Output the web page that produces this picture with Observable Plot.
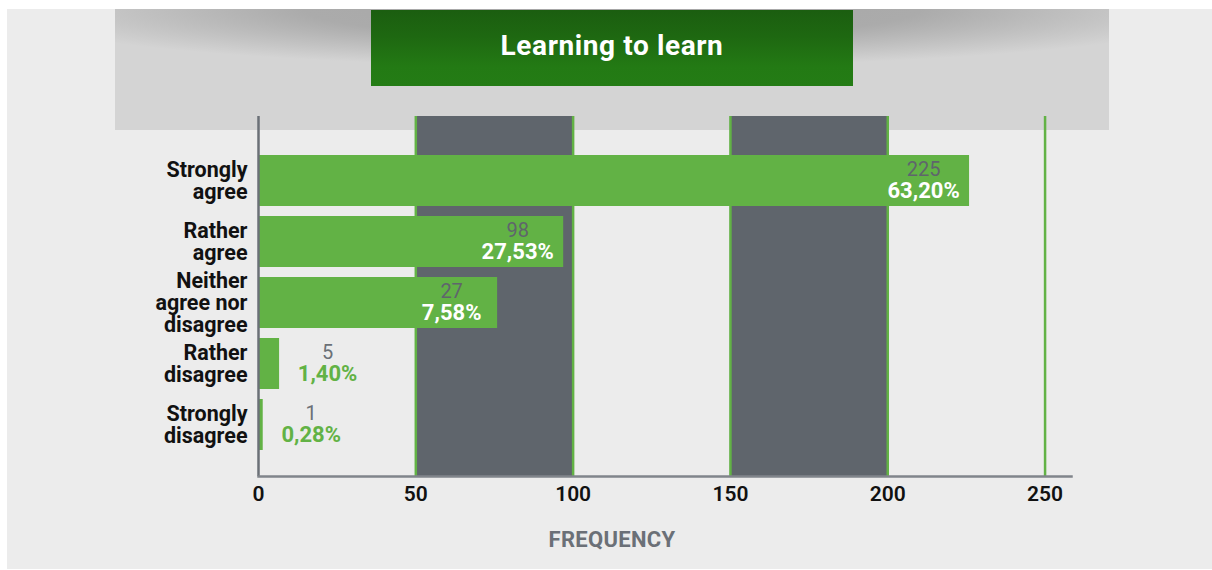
<!DOCTYPE html>
<html>
<head>
<meta charset="utf-8">
<script src="https://cdn.jsdelivr.net/npm/d3@7"></script>
<script src="https://cdn.jsdelivr.net/npm/@observablehq/plot@0.6"></script>
<style>
  html, body { margin: 0; padding: 0; background: #ffffff; }
  #page { position: relative; width: 1212px; height: 570px; overflow: hidden; font-family: Roboto, "Noto Sans", sans-serif; }
  #bg { position: absolute; left: 7px; top: 9px; right: 0; bottom: 1px; background: #ececec; }
  #band { position: absolute; left: 115px; top: 9px; width: 994px; height: 121px;
    background: radial-gradient(ellipse 62% 58px at 50% 0%, #a6a6a6 0%, #ababab 50%, #d4d4d4 100%), #dadada; }
  #titlebox { position: absolute; left: 371px; top: 10px; width: 482px; height: 76px;
    background: linear-gradient(to bottom, #1b5e10 0%, #1e6811 35%, #237a14 75%, #247c15 100%);
    display: flex; align-items: center; justify-content: center; box-sizing: border-box; padding-bottom: 6px; }
  #titlebox h1 { margin: 0; color: #ffffff; font: bold 28px Roboto, sans-serif; letter-spacing: 0.6px; }
  #chart { position: absolute; left: 0; top: 0; }
  #xlabel { position: absolute; left: 0; width: 1224px; top: 527px; text-align: center;
    color: #6b7077; font: bold 22px Roboto, sans-serif; letter-spacing: 0.3px; }
</style>
</head>
<body>
<div id="page">
  <div id="bg"></div>
  <div id="band"></div>
  <div id="titlebox"><h1>Learning to learn</h1></div>
  <div id="chart"></div>
  <div id="xlabel">FREQUENCY</div>
</div>
<script>
// Data
const categories = ["Strongly\nagree", "Rather\nagree", "Neither\nagree nor\ndisagree", "Rather\ndisagree", "Strongly\ndisagree"];
const counts = [225, 98, 27, 5, 1];
const percents = ["63,20%", "27,53%", "7,58%", "1,40%", "0,28%"];
// bar lengths as drawn in the reference (frequency units)
const barLengths = [226, 97, 76, 6.7, 1.5];
const xTicks = [0, 50, 100, 150, 200, 250];
const shadedBands = [[50, 100], [150, 200]];
const gridLines = [50, 100, 150, 200, 250];

const rows = categories.map((c, i) => ({
  cat: c, count: counts[i], pct: percents[i], len: barLengths[i], inside: barLengths[i] > 30
}));
const insideRows = rows.filter(d => d.inside);
const outsideRows = rows.filter(d => !d.inside);
const bands = shadedBands.map(([a, b]) => ({a, b}));

const green = "#62b245";
const slate = "#5f656c";
const gray = "#6b7077";

const valueLabels = (data, dx, countFill, pctFill) => [
  Plot.text(data, { y: "cat", x: "len", text: d => String(d.count), dx, dy: -11,
    textAnchor: "middle", fontSize: 20, fill: countFill }),
  Plot.text(data, { y: "cat", x: "len", text: "pct", dx, dy: 10,
    textAnchor: "middle", fontSize: 22, fontWeight: "bold", fill: pctFill })
];

const plot = Plot.plot({
  width: 1212,
  height: 570,
  marginLeft: 258,
  marginRight: 141,
  marginTop: 116,
  marginBottom: 94,
  style: { background: "transparent", fontFamily: "Roboto, sans-serif", overflow: "visible" },
  x: { domain: [0, 258.4], axis: null },
  y: { domain: categories, range: [148, 458], paddingInner: 0.161, paddingOuter: 0.0806, axis: null },
  marks: [
    Plot.rect(bands, { x1: "a", x2: "b", fill: slate }),
    Plot.ruleX(gridLines, { stroke: green, strokeWidth: 2.5 }),
    Plot.barX(rows, { y: "cat", x: "len", fill: green }),
    Plot.ruleX([0], { stroke: gray, strokeWidth: 2.5 }),
    Plot.frame({ anchor: "bottom", stroke: "#80858b", strokeWidth: 2.5 }),
    Plot.axisX({ ticks: xTicks, tickFormat: d => String(d), tickSize: 0, tickPadding: 10,
      fontSize: 21, fontWeight: 600, fill: "#111", label: null }),
    Plot.text(rows, { y: "cat", x: 0, text: "cat", dx: -11, textAnchor: "end",
      fontSize: 21.5, fontWeight: "bold", fill: "#111", lineHeight: 1.03 }),
    ...valueLabels(insideRows, -46, slate, "#ffffff"),
    ...valueLabels(outsideRows, 48, gray, green)
  ]
});
document.getElementById("chart").appendChild(plot);
</script>
</body>
</html>
